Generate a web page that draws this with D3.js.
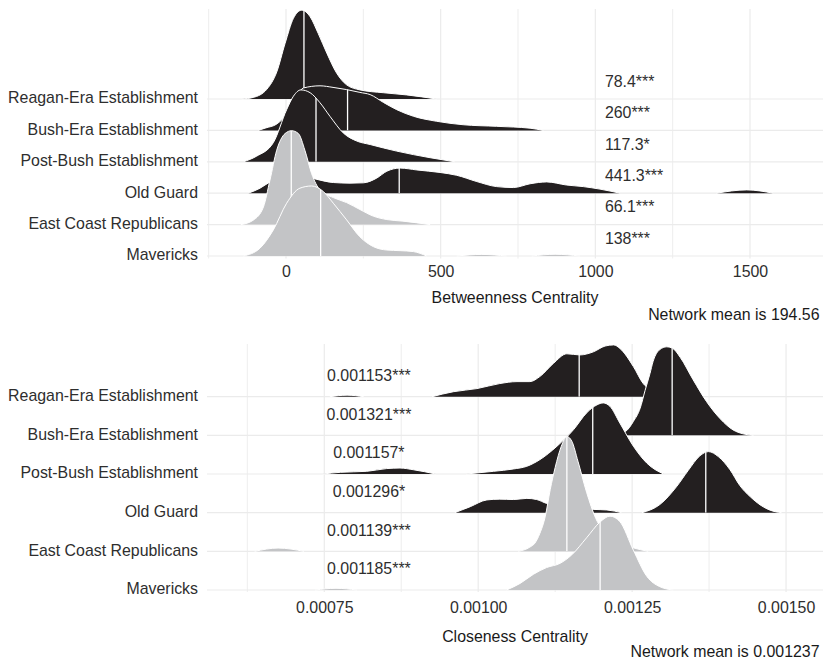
<!DOCTYPE html>
<html><head><meta charset="utf-8">
<script src="https://cdn.jsdelivr.net/npm/d3@7"></script>
<style>body{margin:0;background:#fff} text{font-family:"Liberation Sans",Arial,Helvetica,sans-serif}</style>
</head><body><svg id="c" width="823" height="661"></svg>
<script>
// ---------------- DATA ----------------
const categories = ["Reagan-Era Establishment","Bush-Era Establishment","Post-Bush Establishment","Old Guard","East Coast Republicans","Mavericks"];

// Betweenness centrality densities: segments of [value, scaled density (in row heights)]
const betweennessReagan = [[[-143,0],[-106,0.05],[-62,0.31],[-30,0.86],[-3,1.77],[24,2.57],[51,2.83],[78,2.62],[104,2.09],[132,1.46],[164,0.82],[196,0.45],[239,0.29],[315,0.20],[390,0.13],[487,0]]];
const betweennessBush = [[[-90,0],[-65,0.08],[-32,0.19],[13,0.64],[56,1.35],[110,1.42],[152,1.37],[196,1.30],[239,1.21],[272,1.14],[315,0.89],[358,0.66],[412,0.45],[487,0.29],[573,0.18],[681,0.13],[789,0.07],[832,0]]];
const betweennessPostBush = [[[-138,0],[-95,0.18],[-41,0.61],[2,1.66],[24,2.09],[48,2.29],[78,2.20],[110,1.88],[142,1.45],[185,0.92],[229,0.66],[272,0.55],[358,0.34],[466,0.13],[546,0]]];
const betweennessOldGuard = [[[-122,0],[-84,0.16],[-58,0.32],[-19,0.48],[29,0.57],[71,0.51],[100,0.44],[153,0.34],[207,0.32],[250,0.33],[293,0.48],[326,0.70],[369,0.80],[423,0.74],[498,0.66],[552,0.57],[617,0.37],[681,0.21],[735,0.18],[789,0.30],[843,0.36],[907,0.26],[961,0.21],[1015,0.13],[1080,0]],
                             [[1392,0],[1489,0.105],[1575,0]]];
const betweennessEastCoast = [[[-146,0],[-106,0.14],[-73,0.56],[-52,1.41],[-30,2.37],[-3,2.90],[18,2.99],[40,2.90],[61,2.37],[83,1.62],[110,1.10],[153,0.86],[196,0.70],[239,0.48],[282,0.27],[326,0.16],[378,0.11],[466,0]]];
const betweennessMavericks = [[[-138,0],[-84,0.25],[-41,0.83],[2,1.68],[45,2.16],[83,2.23],[121,2.05],[153,1.68],[196,1.15],[239,0.61],[282,0.30],[326,0.19],[369,0.17],[412,0.14],[455,0]],
                              [[552,0],[633,0.05],[713,0]],
                              [[794,0],[870,0.055],[950,0]]];
const betweennessMedians = [58, 199, 97, 366, 17, 112];
const betweennessLabels = ["78.4***","260***","117.3*","441.3***","66.1***","138***"];
const betweennessTicks = [0, 500, 1000, 1500];
const betweennessTickLabels = ["0","500","1000","1500"];
const betweennessMinorTicks = [-250, 250, 750, 1250];
const betweennessMean = "Network mean is 194.56";

// Closeness centrality densities
const closenessReagan = [[[0.000759,0],[0.000787,0.04],[0.000814,0]],
  [[0.000925,0],[0.000960,0.13],[0.000998,0.21],[0.001035,0.34],[0.001063,0.39],[0.001084,0.39],[0.001100,0.52],[0.001122,0.86],[0.001144,1.11],[0.001165,1.08],[0.001187,1.16],[0.001206,1.31],[0.001220,1.34],[0.001230,1.25],[0.001252,0.78],[0.001268,0.34],[0.001287,0.13],[0.001312,0]]];
const closenessBush = [[[0.001198,0],[0.001222,0.03],[0.001239,0.10],[0.001252,0.36],[0.001263,0.70],[0.001271,1.16],[0.001279,1.60],[0.001284,1.91],[0.001295,2.22],[0.001306,2.29],[0.001316,2.25],[0.001328,2.02],[0.001349,1.44],[0.001371,0.87],[0.001393,0.43],[0.001414,0.14],[0.001430,0.04],[0.001447,0]]];
const closenessPostBush = [[[0.000747,0],[0.000776,0.044],[0.000819,0.07],[0.000851,0.14],[0.000873,0.155],[0.000895,0.11],[0.000931,0]],
  [[0.000980,0],[0.001025,0.07],[0.001057,0.13],[0.001079,0.20],[0.001100,0.37],[0.001128,0.72],[0.001155,1.15],[0.001176,1.58],[0.001193,1.79],[0.001203,1.84],[0.001214,1.75],[0.001230,1.32],[0.001252,0.72],[0.001274,0.28],[0.001301,0]]];
const closenessOldGuard = [[[0.000962,0],[0.000987,0.155],[0.001014,0.33],[0.001035,0.35],[0.001057,0.34],[0.001079,0.37],[0.001095,0.34],[0.001111,0.24],[0.001133,0.17],[0.001157,0.12],[0.001187,0.085],[0.001209,0.07],[0.001233,0]],
  [[0.001266,0],[0.001295,0.21],[0.001322,0.67],[0.001341,1.09],[0.001360,1.47],[0.001374,1.58],[0.001390,1.45],[0.001409,1.11],[0.001425,0.70],[0.001442,0.41],[0.001458,0.20],[0.001474,0.065],[0.001493,0]]];
const closenessEastCoast = [[[0.000637,0],[0.000675,0.085],[0.000717,0]],
  [[0.001065,0],[0.001084,0.11],[0.001092,0.21],[0.001100,0.46],[0.001109,0.91],[0.001117,1.60],[0.001125,2.17],[0.001135,2.72],[0.001144,2.97],[0.001152,2.85],[0.001162,2.33],[0.001176,1.53],[0.001191,0.85],[0.001209,0.44],[0.001230,0.21],[0.001252,0.09],[0.001276,0]]];
const closenessMavericks = [[[0.000735,0],[0.000769,0.044],[0.000803,0]],
  [[0.001046,0],[0.001068,0.17],[0.001090,0.41],[0.001111,0.58],[0.001133,0.69],[0.001152,0.91],[0.001176,1.35],[0.001198,1.76],[0.001214,1.91],[0.001230,1.77],[0.001252,1.03],[0.001274,0.35],[0.001295,0.085],[0.001317,0]]];
const closenessMedians = [0.001164, 0.001315, 0.001186, 0.0013696, 0.001144, 0.001198];
const closenessLabels = ["0.001153***","0.001321***","0.001157*","0.001296*","0.001139***","0.001185***"];
const closenessTicks = [0.00075, 0.001, 0.00125, 0.0015];
const closenessTickLabels = ["0.00075","0.00100","0.00125","0.00150"];
const closenessMinorTicks = [0.000625, 0.000875, 0.001125, 0.001375];
const closenessMean = "Network mean is 0.001237";

// ---------------- STYLE / LAYOUT ----------------
const DARK = "#231f20", LIGHT = "#c3c4c6", GRID = "#ebebeb", TEXT = "#2e2e2e";
const FONT = 15.9;
const fillScale = d3.scaleOrdinal(categories, [DARK, DARK, DARK, DARK, LIGHT, LIGHT]);
const svg = d3.select("#c");
let clipId = 0;

function drawPanel(cfg) {
  const g = svg.append("g");
  const x = d3.scaleLinear().domain(cfg.domain).range([207, 823]);
  const y = d3.scalePoint().domain(categories).range(cfg.rows);
  const step = y.step();

  // grid
  g.selectAll(".vmin").data(cfg.minor).join("line")
    .attr("x1", d => x(d)).attr("x2", d => x(d)).attr("y1", cfg.top).attr("y2", cfg.bottom)
    .attr("stroke", GRID).attr("stroke-width", 0.9);
  g.selectAll(".vmaj").data(cfg.ticks).join("line")
    .attr("x1", d => x(d)).attr("x2", d => x(d)).attr("y1", cfg.top).attr("y2", cfg.bottom)
    .attr("stroke", GRID).attr("stroke-width", 1.2);
  g.selectAll(".h").data(categories).join("line")
    .attr("x1", 207).attr("x2", 823).attr("y1", d => y(d)).attr("y2", d => y(d))
    .attr("stroke", GRID).attr("stroke-width", 1.2);

  // ridges, top row first
  categories.forEach((cat, i) => {
    const base = y(cat);
    const area = d3.area().x(d => x(d[0])).y0(base).y1(d => base - d[1] * step).curve(d3.curveMonotoneX);
    const line = d3.line().x(d => x(d[0])).y(d => base - d[1] * step).curve(d3.curveMonotoneX);
    const segs = cfg.dens[i];
    const id = "clip" + (clipId++);
    const cp = svg.append("clipPath").attr("id", id);
    segs.forEach(s => cp.append("path").attr("d", area(s)));
    const rg = g.append("g");
    segs.forEach(s => {
      rg.append("path").attr("d", area(s)).attr("fill", fillScale(cat));
    });
    rg.append("line").attr("x1", x(cfg.medians[i])).attr("x2", x(cfg.medians[i]))
      .attr("y1", base).attr("y2", base - 4 * step)
      .attr("stroke", "#fff").attr("stroke-width", 1.3).attr("clip-path", `url(#${id})`);
    segs.forEach(s => {
      rg.append("path").attr("d", line(s)).attr("fill", "none").attr("stroke", "#fff").attr("stroke-width", 1);
    });
  });

  // annotations
  g.selectAll(".ann").data(cfg.labels).join("text")
    .attr("x", x(cfg.labelX)).attr("y", (d, i) => y(categories[i]) - cfg.labelOff * step + 5.7)
    .attr("text-anchor", cfg.labelAnchor).attr("font-size", FONT).attr("fill", TEXT).text(d => d);

  // y labels
  g.selectAll(".yl").data(categories).join("text")
    .attr("x", 198).attr("y", d => y(d) + 4.3).attr("text-anchor", "end")
    .attr("font-size", FONT).attr("fill", TEXT).text(d => d);

  // x axis
  const ax = g.append("g").attr("transform", `translate(0,${cfg.axisY})`)
    .call(d3.axisBottom(x).tickValues(cfg.ticks).tickSize(0).tickPadding(3)
      .tickFormat((d, i) => cfg.tickLabels[i]));
  ax.select(".domain").remove();
  ax.selectAll("text").attr("font-size", FONT).attr("fill", TEXT)
    .attr("font-family", '"Liberation Sans",Arial,sans-serif');

  g.append("text").attr("x", 515).attr("y", cfg.titleY).attr("text-anchor", "middle")
    .attr("font-size", FONT).attr("fill", "#1a1a1a").text(cfg.title);
  g.append("text").attr("x", 819.5).attr("y", cfg.captionY).attr("text-anchor", "end")
    .attr("font-size", FONT).attr("fill", "#1a1a1a").text(cfg.caption);
}

drawPanel({
  domain: [-255.4, 1736], rows: [99, 256], top: 9, bottom: 258.5,
  dens: [betweennessReagan, betweennessBush, betweennessPostBush, betweennessOldGuard, betweennessEastCoast, betweennessMavericks],
  medians: betweennessMedians, labels: betweennessLabels, labelX: 1031, labelAnchor: "start", labelOff: 0.573,
  ticks: betweennessTicks, tickLabels: betweennessTickLabels, minor: betweennessMinorTicks,
  axisY: 262.3, title: "Betweenness Centrality", titleY: 302.8, caption: betweennessMean, captionY: 319.6
});
drawPanel({
  domain: [0.0005595, 0.00156], rows: [396.7, 590], top: 344, bottom: 592,
  dens: [closenessReagan, closenessBush, closenessPostBush, closenessOldGuard, closenessEastCoast, closenessMavericks],
  medians: closenessMedians, labels: closenessLabels, labelX: 0.0008225, labelAnchor: "middle", labelOff: 0.556,
  ticks: closenessTicks, tickLabels: closenessTickLabels, minor: closenessMinorTicks,
  axisY: 598.8, title: "Closeness Centrality", titleY: 641.5, caption: closenessMean, captionY: 656.7
});
</script></body></html>
